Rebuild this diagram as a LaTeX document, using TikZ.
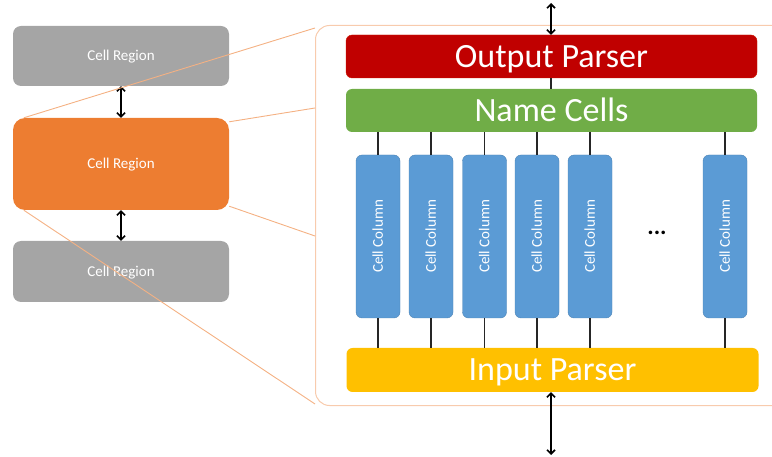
\documentclass[tikz,border=0pt]{standalone}
\usepackage{fontspec}
\setmainfont{Carlito}
\usetikzlibrary{arrows.meta}

\definecolor{regiongray}{HTML}{A5A5A5}
\definecolor{regionorange}{HTML}{ED7D31}
\definecolor{zoomline}{HTML}{F4B183}
\definecolor{framecol}{HTML}{F8CBAD}
\definecolor{parserred}{HTML}{C00000}
\definecolor{namegreen}{HTML}{70AD47}
\definecolor{columnblue}{HTML}{5B9BD5}
\definecolor{parseryellow}{HTML}{FFC000}

\tikzset{
  regionbox/.style={rounded corners=8pt, inner sep=0pt, minimum width=216pt,
    text=white, font=\fontsize{15}{17}\selectfont, text height=9.7pt, text depth=0pt},
  barbox/.style={rounded corners=6pt, inner sep=0pt, minimum width=411pt,
    minimum height=43pt, text=white, font=\fontsize{34}{38}\selectfont,
    text height=21.9pt, text depth=0pt},
  colbox/.style={fill=columnblue, draw=columnblue!85!black, line width=0.4pt,
    rounded corners=6pt, inner sep=0pt, minimum width=44pt, minimum height=163pt},
  coltext/.style={rotate=90, text=white, font=\fontsize{15}{17}\selectfont,
    text height=9.7pt, text depth=0pt},
  biarrow/.style={{Straight Barb[length=4pt,width=8pt]}-{Straight Barb[length=4pt,width=8pt]},
    line width=1.6pt, black},
  wire/.style={line width=1.3pt, black!85},
  zoom/.style={draw=zoomline, line width=0.9pt},
}

\begin{document}
\begin{tikzpicture}[x=1pt, y=-1pt]
\useasboundingbox (0,0) rectangle (772,457);
\clip (0,0) rectangle (772,457);

% enlarged view frame
\node[draw=framecol, line width=1pt, rounded corners=14pt, inner sep=0pt,
      minimum width=480pt, minimum height=380pt, anchor=north west] (frame) at (315,25) {};
\coordinate (fa) at (315,28);
\coordinate (fb) at (315,108);
\coordinate (fc) at (315,236);
\coordinate (fd) at (315,404);

% stacked regions
\node[regionbox, fill=regiongray, minimum height=60pt] (rtop) at (121,56) {Cell Region};
\node[regionbox, fill=regionorange, minimum height=92pt, rounded corners=12pt] (rmid) at (121,164) {Cell Region};
\node[regionbox, fill=regiongray, minimum height=61pt] (rbot) at (121,271.5) {Cell Region};

\draw[biarrow] (rtop) -- (rmid);
\draw[biarrow] (rmid) -- (rbot);

% lines tying the middle region to its enlarged view
\draw[zoom] ([xshift=11pt]rmid.north west) -- (fa);
\draw[zoom] ([yshift=-4pt]rmid.north east) -- (fb);
\draw[zoom] ([yshift=4pt]rmid.south east) -- (fc);
\draw[zoom] ([xshift=11pt]rmid.south west) -- (fd);

% parser and naming stages
\node[barbox, fill=parserred, draw=parserred!80!orange] (out) at (551.5,56.5) {Output Parser};
\node[barbox, fill=namegreen] (names) at (551.5,110.5) {Name Cells};
\node[barbox, fill=parseryellow, minimum width=412pt, minimum height=44pt] (in) at (552.5,370) {Input Parser};

\coordinate (topend) at (551,3);
\coordinate (botend) at (551,455);
\draw[biarrow] (topend) -- (out.north -| topend);
\draw[biarrow] (in.south -| botend) -- (botend);
\draw[wire] (out.south -| topend) -- (names.north -| topend);

% cell columns
\foreach \i/\cx in {1/378, 2/431, 3/484.5, 4/537, 5/590, 6/725} {
  \node[colbox] (col\i) at (\cx,236.5) {};
  \node[coltext] (lab\i) at (col\i) {Cell Column};
  \draw[wire] (names.south -| col\i) -- (col\i.north);
  \draw[wire] (col\i.south) -- (in.north -| col\i);
}

\node[font=\fontsize{24}{26}\selectfont\bfseries, anchor=base] (dots) at (657,235) {...};

\end{tikzpicture}
\end{document}
